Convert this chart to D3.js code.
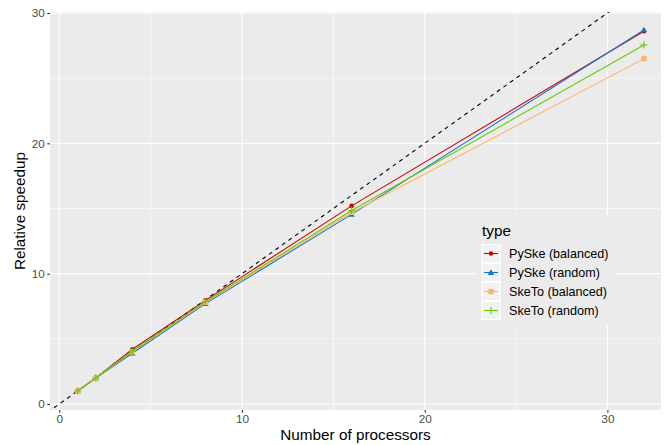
<!DOCTYPE html>
<html>
<head>
<meta charset="utf-8">
<script src="https://cdn.jsdelivr.net/npm/d3@7"></script>
<style>
  body { margin: 0; background: #fff; }
  svg { display: block; font-family: "Liberation Sans", Arial, sans-serif; }
</style>
</head>
<body>
<div id="chart"></div>
<script>
// processors on the x axis
const processors = [1, 2, 4, 8, 16, 32];

// speedup per series
const pyskeBalanced = [1, 2, 4.2, 7.95, 15.2, 28.6];
const pyskeRandom = [1, 2, 3.9, 7.7, 14.55, 28.7];
const sketoBalanced = [1, 2, 4.0, 7.8, 14.7, 26.5];
const sketoRandom = [1, 2, 4.05, 7.85, 14.85, 27.55];

const seriesNames = ["PySke (balanced)", "PySke (random)", "SkeTo (balanced)", "SkeTo (random)"];
const seriesValues = [pyskeBalanced, pyskeRandom, sketoBalanced, sketoRandom];
const seriesColors = ["#CC0000", "#1874CD", "#FFB366", "#66CC00"];
const seriesShapes = ["circle", "triangle", "square", "plus"];

const xTicks = [0, 10, 20, 30];
const yTicks = [0, 10, 20, 30];
const xMinor = [5, 15, 25];
const yMinor = [5, 15, 25];

const width = 667, height = 445;
const panel = { left: 50, right: 661, top: 12, bottom: 410 };

const svg = d3.select("#chart").append("svg")
    .attr("width", width)
    .attr("height", height);

const x = d3.scaleLinear().domain([0, 10]).range([59.3, 242]);
const y = d3.scaleLinear().domain([0, 30]).range([404, 13]);

// panel background
svg.append("rect")
    .attr("x", panel.left).attr("y", panel.top)
    .attr("width", panel.right - panel.left)
    .attr("height", panel.bottom - panel.top)
    .attr("fill", "#EBEBEB");

// grid lines
const grid = svg.append("g");
xMinor.forEach(v => grid.append("line")
    .attr("x1", x(v)).attr("x2", x(v)).attr("y1", panel.top).attr("y2", panel.bottom)
    .attr("stroke", "#fff").attr("stroke-width", 0.55));
yMinor.forEach(v => grid.append("line")
    .attr("y1", y(v)).attr("y2", y(v)).attr("x1", panel.left).attr("x2", panel.right)
    .attr("stroke", "#fff").attr("stroke-width", 0.55));
xTicks.forEach(v => grid.append("line")
    .attr("x1", x(v)).attr("x2", x(v)).attr("y1", panel.top).attr("y2", panel.bottom)
    .attr("stroke", "#fff").attr("stroke-width", 1.1));
yTicks.forEach(v => grid.append("line")
    .attr("y1", y(v)).attr("y2", y(v)).attr("x1", panel.left).attr("x2", panel.right)
    .attr("stroke", "#fff").attr("stroke-width", 1.1));

// clip for the panel
svg.append("clipPath").attr("id", "clip")
    .append("rect")
    .attr("x", panel.left).attr("y", panel.top)
    .attr("width", panel.right - panel.left)
    .attr("height", panel.bottom - panel.top);

const plot = svg.append("g").attr("clip-path", "url(#clip)");

// ideal speedup y = x
plot.append("line")
    .attr("x1", x(-1)).attr("y1", y(-1))
    .attr("x2", x(40)).attr("y2", y(40))
    .attr("stroke", "#000")
    .attr("stroke-width", 1.1)
    .attr("stroke-dasharray", "4,4");

const line = d3.line()
    .x(d => x(d[0]))
    .y(d => y(d[1]));

function drawShape(g, shape, cx, cy, color) {
    if (shape === "circle") {
        g.append("circle").attr("cx", cx).attr("cy", cy).attr("r", 2.3).attr("fill", color);
    } else if (shape === "triangle") {
        const s = 3.2;
        g.append("path")
            .attr("d", `M${cx},${cy - s}L${cx + s},${cy + s * 0.75}L${cx - s},${cy + s * 0.75}Z`)
            .attr("fill", color);
    } else if (shape === "square") {
        g.append("rect").attr("x", cx - 2.7).attr("y", cy - 2.7)
            .attr("width", 5.4).attr("height", 5.4).attr("fill", color);
    } else {
        const s = 3.6;
        g.append("path")
            .attr("d", `M${cx - s},${cy}H${cx + s}M${cx},${cy - s}V${cy + s}`)
            .attr("stroke", color).attr("stroke-width", 1.1).attr("fill", "none");
    }
}

seriesValues.forEach((vals, i) => {
    const pts = processors.map((p, j) => [p, vals[j]]);
    plot.append("path")
        .datum(pts)
        .attr("fill", "none")
        .attr("stroke", seriesColors[i])
        .attr("stroke-width", 1.1)
        .attr("d", line);
    pts.forEach(p => drawShape(plot, seriesShapes[i], x(p[0]), y(p[1]), seriesColors[i]));
});

// axes
const xAxis = svg.append("g")
    .attr("transform", `translate(0,${panel.bottom})`)
    .call(d3.axisBottom(x).tickValues(xTicks).tickSize(2.75).tickPadding(1.5));
const yAxis = svg.append("g")
    .attr("transform", `translate(${panel.left},0)`)
    .call(d3.axisLeft(y).tickValues(yTicks).tickSize(2.75).tickPadding(2.5));
[xAxis, yAxis].forEach(a => {
    a.select(".domain").remove();
    a.selectAll(".tick line").attr("stroke", "#333").attr("stroke-width", 1.1);
    a.selectAll(".tick text")
        .attr("fill", "#4D4D4D")
        .style("font-size", "11.8px")
        .style("font-family", "'Liberation Sans', Arial, sans-serif");
});

// axis titles
svg.append("text")
    .attr("x", (panel.left + panel.right) / 2)
    .attr("y", 439.5)
    .attr("text-anchor", "middle")
    .style("font-size", "15.3px")
    .text("Number of processors");

svg.append("text")
    .attr("transform", `translate(24.5,${(panel.top + panel.bottom) / 2}) rotate(-90)`)
    .attr("text-anchor", "middle")
    .style("font-size", "15.3px")
    .text("Relative speedup");

// legend
const legend = svg.append("g");
legend.append("rect")
    .attr("x", 476).attr("y", 215)
    .attr("width", 140).attr("height", 110)
    .attr("fill", "#EBEBEB");
legend.append("text")
    .attr("x", 482).attr("y", 236)
    .style("font-size", "15.3px")
    .text("type");

seriesNames.forEach((name, i) => {
    const cy = 253.5 + i * 19;
    legend.append("rect")
        .attr("x", 482).attr("y", cy - 9)
        .attr("width", 18).attr("height", 18)
        .attr("fill", "#F2F2F2")
        .attr("stroke", "#fff");
    legend.append("line")
        .attr("x1", 484).attr("x2", 498)
        .attr("y1", cy).attr("y2", cy)
        .attr("stroke", seriesColors[i]).attr("stroke-width", 1.1);
    drawShape(legend, seriesShapes[i], 491, cy, seriesColors[i]);
    legend.append("text")
        .attr("x", 509).attr("y", cy + 4.3)
        .style("font-size", "12.6px")
        .text(name);
});
</script>
</body>
</html>
